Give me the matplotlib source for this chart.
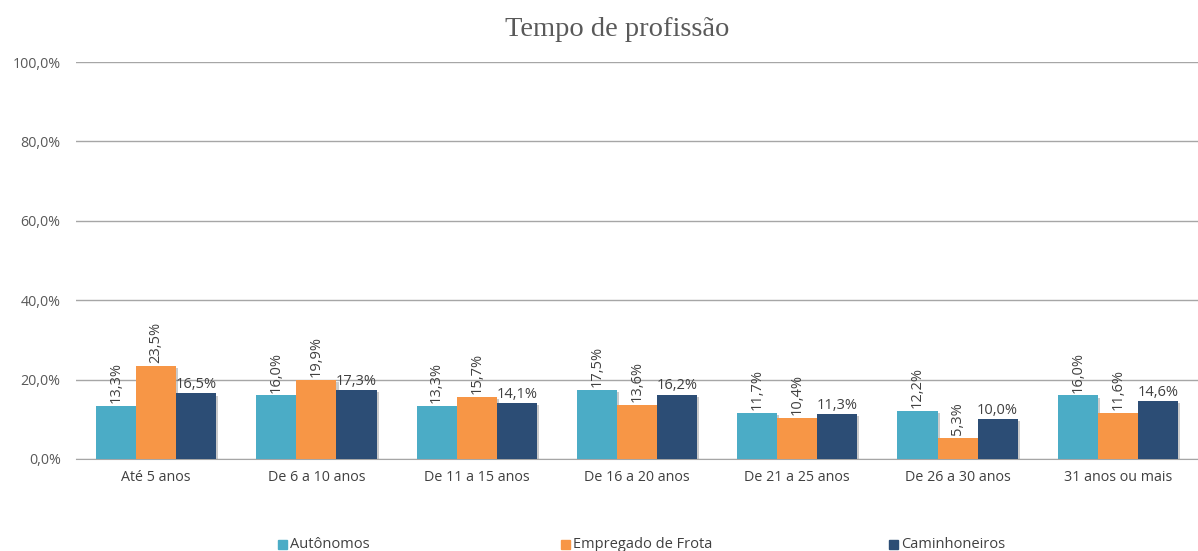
import matplotlib
matplotlib.use("Agg")
import matplotlib.pyplot as plt
import matplotlib.patheffects as pe
from matplotlib.patches import Rectangle
import numpy as np

categories = ["Até 5 anos", "De 6 a 10 anos", "De 11 a 15 anos", "De 16 a 20 anos",
              "De 21 a 25 anos", "De 26 a 30 anos", "31 anos ou mais"]
series_names = ["Autônomos", "Empregado de Frota", "Caminhoneiros"]
autonomos = [13.3, 16.0, 13.3, 17.5, 11.7, 12.2, 16.0]
empregado = [23.5, 19.9, 15.7, 13.6, 10.4, 5.3, 11.6]
caminhoneiros = [16.5, 17.3, 14.1, 16.2, 11.3, 10.0, 14.6]
colors = ["#4BACC6", "#F79646", "#2C4D75"]
yticks = [0, 20, 40, 60, 80, 100]

plt.rcParams['font.family'] = ['Open Sans', 'DejaVu Sans']
txtc = "#404040"

fig = plt.figure(figsize=(11.98, 5.51), dpi=100)
ax = fig.add_axes([76/1198, 1-459/551, 1122/1198, (459-62)/551])

x = np.arange(len(categories))
w = 0.25
data = [autonomos, empregado, caminhoneiros]
shadow = [pe.SimplePatchShadow(offset=(1.5, -1.5), shadow_rgbFace="#8c8c8c", alpha=0.45), pe.Normal()]
for i, vals in enumerate(data):
    pos = x + (i - 1) * w
    ax.bar(pos, vals, width=w, color=colors[i], zorder=3, path_effects=shadow)
    for xp, v in zip(pos, vals):
        lab = f"{v:.1f}%".replace(".", ",")
        if i < 2:
            ax.annotate(lab, (xp, v), xytext=(0, 2), textcoords="offset points",
                        rotation=90, ha="center", va="bottom", fontsize=10.5, color=txtc)
        else:
            ax.annotate(lab, (xp, v), xytext=(0, 1), textcoords="offset points",
                        ha="center", va="bottom", fontsize=10.5, color=txtc)

ax.set_xlim(-0.5, len(categories) - 0.5)
ax.set_ylim(0, 100)
ax.set_yticks(yticks)
ax.set_yticklabels([f"{t:.1f}%".replace(".", ",") for t in yticks], fontsize=10.3, color="#595959")
ax.set_xticks(x)
ax.set_xticklabels(categories, fontsize=10.3, color="#404040")
ax.tick_params(axis="both", length=0)
ax.tick_params(axis="y", pad=11)
ax.tick_params(axis="x", pad=8)
ax.yaxis.grid(True, color="#A6A6A6", linewidth=1, zorder=0)
ax.set_axisbelow(True)
for s in ["top", "right", "left"]:
    ax.spines[s].set_visible(False)
ax.spines["bottom"].set_color("#A6A6A6")

fig.text(617/1198, 1-29/551, "Tempo de profissão", ha="center", va="center",
         fontsize=20.5, color="#595959", family=["Liberation Serif", "DejaVu Serif"])

legend_x = [278, 561, 889]
for name, c, lx in zip(series_names, colors, legend_x):
    fig.patches.append(Rectangle((lx/1198, 1-549/551), 9/1198, 9/551, color=c,
                                 transform=fig.transFigure, figure=fig))
    fig.text((lx + 12)/1198, 1-544/551, name, ha="left", va="center", fontsize=10.5, color="#404040")

fig.savefig("out.png", dpi=100)
